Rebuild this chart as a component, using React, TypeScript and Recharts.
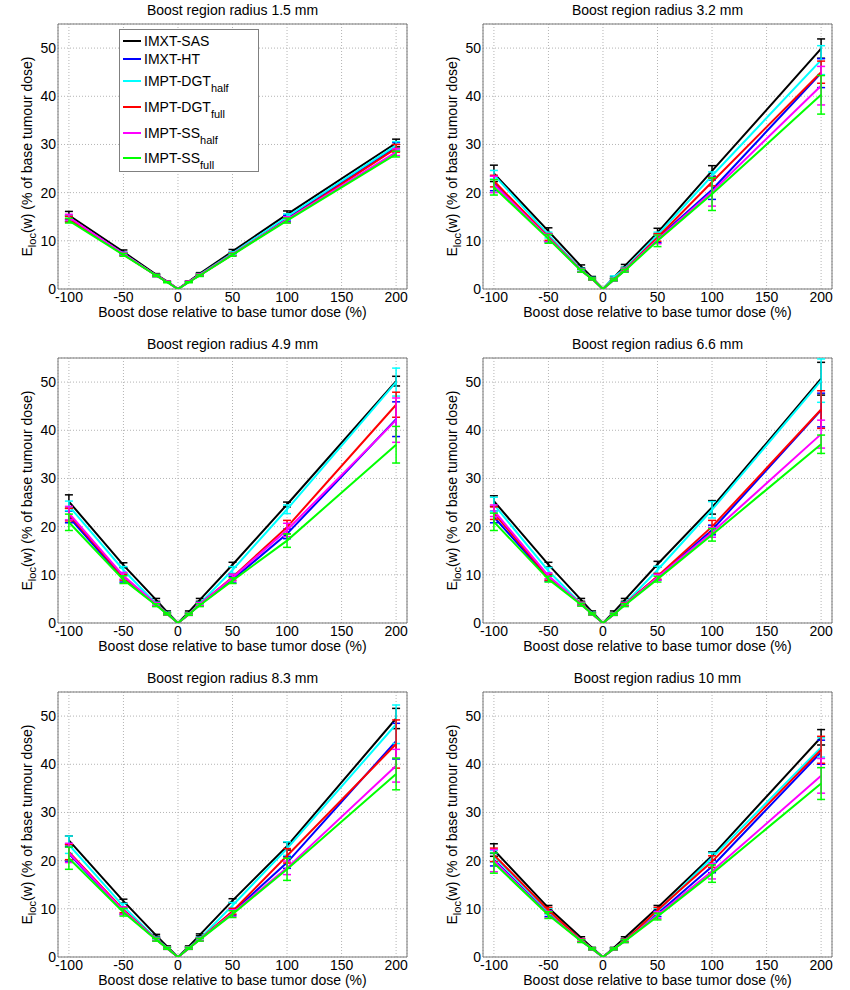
import React from "react";
import { LineChart, Line, XAxis, YAxis, CartesianGrid, ErrorBar, ReferenceArea, Legend } from "recharts";

const FONT = "'Liberation Sans', Arial, sans-serif";

const doses = [-100, -50, -20, -10, 0, 10, 20, 50, 100, 200];
const xTicks = [-100, -50, 0, 50, 100, 150, 200];
const yTicks = [0, 10, 20, 30, 40, 50];
const methods = ["IMXT-SAS", "IMXT-HT", "IMPT-DGT", "IMPT-DGT", "IMPT-SS", "IMPT-SS"];
const methodSubs = ["", "", "half", "full", "half", "full"];
const colors = ["#000000", "#0000ff", "#00ffff", "#ff0000", "#ff00ff", "#00ff00"];
const radii = ["1.5", "3.2", "4.9", "6.6", "8.3", "10"];

// rows: SAS, HT, DGT half, DGT full, SS half, SS full
const r15Mean = [
  [15.3, 7.7, 3.0, 1.6, 0, 1.6, 3.2, 7.8, 15.5, 30.3],
  [14.6, 7.3, 2.8, 1.5, 0, 1.5, 2.9, 7.3, 14.7, 29.5],
  [14.7, 7.3, 2.8, 1.5, 0, 1.5, 3.0, 7.4, 15.0, 29.8],
  [14.5, 7.2, 2.8, 1.5, 0, 1.5, 2.9, 7.2, 14.4, 29.2],
  [14.9, 7.3, 2.8, 1.5, 0, 1.5, 2.9, 7.2, 14.4, 28.4],
  [14.2, 7.1, 2.8, 1.4, 0, 1.4, 2.8, 7.1, 14.2, 28.0],
];
const r15Err = [
  [0.8, 0.4, 0.2, 0.1, 0, 0.1, 0.2, 0.4, 0.7, 0.8],
  [0.6, 0.3, 0.2, 0.1, 0, 0.1, 0.2, 0.3, 0.6, 0.9],
  [0.6, 0.3, 0.2, 0.1, 0, 0.1, 0.2, 0.3, 0.6, 0.8],
  [0.6, 0.3, 0.2, 0.1, 0, 0.1, 0.2, 0.3, 0.6, 0.8],
  [0.6, 0.3, 0.2, 0.1, 0, 0.1, 0.2, 0.3, 0.6, 0.7],
  [0.5, 0.3, 0.2, 0.1, 0, 0.1, 0.2, 0.3, 0.5, 0.6],
];

const r32Mean = [
  [24.0, 12.0, 4.7, 2.4, 0, 2.4, 4.8, 11.7, 24.5, 49.9],
  [21.9, 10.6, 3.9, 2.1, 0, 1.9, 3.9, 10.5, 20.6, 44.8],
  [23.7, 11.2, 4.0, 2.2, 0, 2.5, 4.2, 11.2, 23.5, 47.5],
  [22.4, 10.8, 3.9, 2.1, 0, 2.0, 4.0, 10.7, 22.2, 45.0],
  [21.7, 10.6, 3.9, 2.1, 0, 1.9, 3.9, 10.3, 20.2, 42.2],
  [21.1, 10.4, 3.8, 2.1, 0, 1.9, 3.8, 10.0, 19.7, 40.3],
];
const r32Err = [
  [1.7, 0.7, 0.3, 0.2, 0, 0.2, 0.3, 0.9, 1.1, 2.0],
  [1.5, 0.8, 0.3, 0.2, 0, 0.2, 0.3, 0.9, 2.0, 3.0],
  [0.9, 0.6, 0.3, 0.2, 0, 0.2, 0.3, 0.6, 0.8, 3.0],
  [1.2, 0.7, 0.3, 0.2, 0, 0.2, 0.3, 0.8, 0.8, 2.3],
  [1.7, 0.8, 0.3, 0.2, 0, 0.2, 0.3, 0.9, 3.0, 4.0],
  [1.6, 0.9, 0.3, 0.2, 0, 0.2, 0.3, 1.2, 3.4, 4.0],
];

const r49Mean = [
  [25.2, 12.0, 4.8, 2.3, 0, 2.3, 4.8, 12.1, 24.6, 50.2],
  [22.0, 9.2, 3.8, 1.9, 0, 1.8, 3.8, 9.0, 18.5, 42.3],
  [24.3, 11.0, 4.0, 2.0, 0, 1.9, 4.0, 11.0, 23.6, 50.0],
  [22.5, 9.5, 3.9, 1.9, 0, 1.8, 3.9, 9.5, 19.9, 45.3],
  [22.8, 9.8, 3.9, 1.9, 0, 1.8, 3.9, 9.4, 19.3, 42.1],
  [20.9, 9.0, 3.7, 1.9, 0, 1.8, 3.7, 8.8, 17.1, 37.0],
];
const r49Err = [
  [1.4, 0.5, 0.3, 0.2, 0, 0.2, 0.3, 0.5, 0.5, 1.0],
  [1.2, 0.7, 0.3, 0.2, 0, 0.2, 0.3, 0.7, 1.0, 3.6],
  [1.0, 0.7, 0.3, 0.2, 0, 0.2, 0.3, 0.7, 0.9, 2.9],
  [1.3, 0.6, 0.3, 0.2, 0, 0.2, 0.3, 0.6, 1.4, 2.6],
  [1.4, 0.7, 0.3, 0.2, 0, 0.2, 0.3, 0.7, 1.4, 4.6],
  [1.7, 0.8, 0.3, 0.2, 0, 0.2, 0.3, 0.6, 1.4, 3.8],
];

const r66Mean = [
  [25.3, 12.1, 4.8, 2.3, 0, 2.3, 4.8, 12.2, 24.0, 50.7],
  [22.0, 9.3, 4.0, 1.9, 0, 1.8, 3.9, 9.5, 19.3, 44.2],
  [24.6, 10.8, 4.0, 2.0, 0, 1.9, 4.0, 11.0, 23.5, 50.3],
  [22.8, 9.5, 4.0, 1.9, 0, 1.8, 3.9, 9.7, 20.0, 44.3],
  [23.3, 9.8, 3.9, 1.9, 0, 1.8, 3.8, 9.5, 18.8, 39.2],
  [21.0, 9.1, 3.8, 1.9, 0, 1.8, 3.7, 9.1, 18.3, 37.1],
];
const r66Err = [
  [1.1, 0.5, 0.3, 0.2, 0, 0.2, 0.3, 0.6, 1.4, 3.4],
  [1.2, 0.6, 0.3, 0.2, 0, 0.2, 0.3, 0.6, 1.0, 3.5],
  [1.5, 0.7, 0.3, 0.2, 0, 0.2, 0.3, 0.8, 1.7, 4.5],
  [1.3, 0.6, 0.3, 0.2, 0, 0.2, 0.3, 0.6, 1.3, 3.9],
  [1.2, 0.6, 0.3, 0.2, 0, 0.2, 0.3, 0.6, 1.0, 2.9],
  [1.8, 0.6, 0.3, 0.2, 0, 0.2, 0.3, 0.6, 1.3, 1.9],
];

const r83Mean = [
  [24.2, 11.6, 4.5, 2.2, 0, 2.2, 4.6, 11.7, 23.0, 49.5],
  [21.4, 9.5, 3.7, 1.8, 0, 1.8, 3.7, 9.3, 19.6, 44.8],
  [23.3, 10.5, 3.8, 1.9, 0, 1.9, 3.8, 10.7, 22.5, 48.3],
  [21.8, 9.8, 3.7, 1.8, 0, 1.8, 3.7, 9.5, 21.0, 44.2],
  [21.6, 9.6, 3.7, 1.8, 0, 1.8, 3.7, 9.1, 18.5, 39.7],
  [20.5, 9.3, 3.6, 1.8, 0, 1.8, 3.6, 8.9, 18.2, 38.0],
];
const r83Err = [
  [0.9, 0.4, 0.2, 0.1, 0, 0.1, 0.2, 0.4, 0.8, 2.1],
  [1.5, 0.6, 0.3, 0.2, 0, 0.2, 0.3, 0.6, 1.2, 3.7],
  [1.8, 0.6, 0.3, 0.2, 0, 0.2, 0.3, 0.6, 1.4, 4.0],
  [1.6, 0.6, 0.3, 0.2, 0, 0.2, 0.3, 0.6, 1.5, 5.0],
  [2.0, 0.8, 0.3, 0.2, 0, 0.2, 0.3, 0.7, 1.4, 3.4],
  [2.3, 0.8, 0.3, 0.2, 0, 0.2, 0.3, 0.7, 2.3, 3.3],
];

const r10Mean = [
  [22.2, 10.2, 4.0, 1.9, 0, 1.9, 4.0, 10.2, 21.0, 45.6],
  [20.2, 9.0, 3.4, 1.7, 0, 1.7, 3.4, 9.0, 18.8, 42.5],
  [20.9, 9.5, 3.5, 1.7, 0, 1.7, 3.4, 9.5, 20.6, 43.5],
  [21.2, 9.7, 3.5, 1.7, 0, 1.7, 3.4, 9.7, 19.8, 43.0],
  [20.0, 8.8, 3.4, 1.7, 0, 1.7, 3.3, 8.7, 17.8, 37.6],
  [19.5, 8.7, 3.3, 1.7, 0, 1.7, 3.3, 8.4, 17.3, 36.0],
];
const r10Err = [
  [1.3, 0.5, 0.2, 0.1, 0, 0.1, 0.2, 0.5, 0.8, 1.6],
  [1.3, 0.6, 0.3, 0.2, 0, 0.2, 0.3, 0.6, 1.3, 2.5],
  [1.2, 0.6, 0.3, 0.2, 0, 0.2, 0.3, 0.6, 1.0, 2.0],
  [1.4, 0.6, 0.3, 0.2, 0, 0.2, 0.3, 0.6, 1.2, 2.8],
  [2.3, 0.7, 0.3, 0.2, 0, 0.2, 0.3, 0.7, 1.6, 3.6],
  [2.1, 0.7, 0.3, 0.2, 0, 0.2, 0.3, 0.7, 1.8, 3.3],
];

const panelMeans = [r15Mean, r32Mean, r49Mean, r66Mean, r83Mean, r10Mean];
const panelErrs = [r15Err, r32Err, r49Err, r66Err, r83Err, r10Err];

const YLabel = (props: any) => {
  const vb = props.viewBox || { x: 0, y: 24, width: 58, height: 265 };
  const x = vb.x + 32;
  const y = vb.y + vb.height / 2;
  return (
    <text x={x} y={y} transform={`rotate(-90 ${x} ${y})`} textAnchor="middle" fontSize={14} fontFamily={FONT} fill="#000">
      E<tspan fontSize={11} dy={4}>loc</tspan>
      <tspan dy={-4}>(w) (% of base tumour dose)</tspan>
    </text>
  );
};

const XLabel = (props: any) => {
  const vb = props.viewBox || { x: 58, y: 289, width: 349, height: 31 };
  return (
    <text x={vb.x + vb.width / 2} y={vb.y + 28} textAnchor="middle" fontSize={14} fontFamily={FONT} fill="#000">
      Boost dose relative to base tumor dose (%)
    </text>
  );
};

const rowGaps = [2, 0, 4, 8, 8, 7];

const LegendBox = () => (
  <div style={{ width: 138, height: 141, border: "1px solid #808080", background: "#fff", fontFamily: FONT, fontSize: 14, boxSizing: "content-box" }}>
    {methods.map((m, k) => (
      <div key={k} style={{ display: "flex", alignItems: "center", height: 18, marginTop: rowGaps[k], whiteSpace: "nowrap" }}>
        <div style={{ width: 18, height: 2, background: colors[k], marginLeft: 3, marginRight: 3 }} />
        <span style={{ color: "#000" }}>
          {m}
          {methodSubs[k] && <span style={{ fontSize: 11, position: "relative", top: 6 }}>{methodSubs[k]}</span>}
        </span>
      </div>
    ))}
  </div>
);

function Panel({ idx }: { idx: number }) {
  const mean = panelMeans[idx];
  const err = panelErrs[idx];
  const rows = doses.map((d, i) => {
    const row: Record<string, number> = { dose: d };
    mean.forEach((s, k) => {
      row["m" + k] = s[i];
      row["e" + k] = err[k][i];
    });
    return row;
  });
  return (
    <div style={{ position: "relative", width: 425, height: 320 }}>
      <div style={{ position: "absolute", left: 58, top: 1, width: 349, textAlign: "center", fontSize: 14, lineHeight: "18px", fontFamily: FONT, color: "#000" }}>
        Boost region radius {radii[idx]} mm
      </div>
      <LineChart width={425} height={320} data={rows} margin={{ top: 24, right: 18, bottom: 0, left: 0 }}>
        <CartesianGrid stroke="#b4b4b4" strokeDasharray="1 2" />
        <XAxis
          type="number"
          dataKey="dose"
          domain={[-110, 210]}
          ticks={xTicks}
          interval={0}
          allowDataOverflow
          height={31}
          axisLine={false}
          tickLine={false}
          tickSize={0}
          tickMargin={3}
          tick={{ fill: "#000", fontSize: 14, fontFamily: FONT }}
          label={{ content: XLabel }}
        />
        <YAxis
          type="number"
          domain={[0, 55]}
          ticks={yTicks}
          interval={0}
          allowDataOverflow
          width={58}
          axisLine={false}
          tickLine={false}
          tickSize={0}
          tickMargin={2}
          tick={{ fill: "#000", fontSize: 14, fontFamily: FONT }}
          label={{ content: YLabel }}
        />
        <ReferenceArea x1={-110} x2={210} y1={0} y2={55} fill="none" stroke="#7a7a7a" strokeWidth={1} />
        {colors.map((c, k) => (
          <Line key={k} type="linear" dataKey={"m" + k} stroke={c} strokeWidth={2} dot={false} isAnimationActive={false}>
            <ErrorBar dataKey={"e" + k} stroke={c} strokeWidth={1.5} width={4} direction="y" isAnimationActive={false} />
          </Line>
        ))}
        {idx === 0 && (
          <Legend
            layout="vertical"
            align="center"
            verticalAlign="middle"
            content={() => <LegendBox />}
            wrapperStyle={{ left: 119, top: 29, width: 140, height: 143 }}
          />
        )}
      </LineChart>
    </div>
  );
}

export default function App() {
  return (
    <div style={{ position: "absolute", left: 0, top: 0, width: 850, height: 990, background: "#fff", fontFamily: FONT }}>
      {radii.map((r, idx) => (
        <div key={r} style={{ position: "absolute", left: (idx % 2) * 425, top: Math.floor(idx / 2) * 334 }}>
          <Panel idx={idx} />
        </div>
      ))}
    </div>
  );
}
